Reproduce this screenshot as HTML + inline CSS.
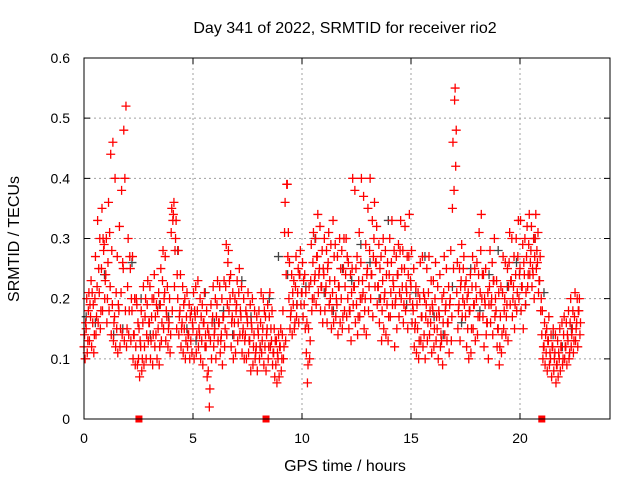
<!DOCTYPE html>
<html><head><meta charset="utf-8"><style>
body{margin:0;background:#fff}
svg{display:block;font-family:"Liberation Sans",sans-serif}
</style></head><body>
<svg id="chart" width="640" height="480" viewBox="0 0 640 480">
<text x="345" y="33" font-size="16" text-anchor="middle">Day 341 of 2022, SRMTID for receiver rio2</text>
<text transform="translate(19,239) rotate(-90)" font-size="16" text-anchor="middle">SRMTID / TECUs</text>
<text x="345" y="471" font-size="16" text-anchor="middle">GPS time / hours</text>
<g id="grid"></g>
<g id="ticks"></g>
<g id="marks"></g>
<rect x="84" y="58" width="526" height="361" fill="none" stroke="#000" stroke-width="1"/>
</svg>
<script>
const xTicks=[0,5,10,15,20];
const yTicks=[0,0.1,0.2,0.3,0.4,0.5,0.6];
const yTickLabels=["0","0.1","0.2","0.3","0.4","0.5","0.6"];
const gapMarks=[2.52,8.35,21.0];
const r1=[.12,.15,.18,.17,.16,.20,.22,.21,.25,.28,
.24,.26,.22,.19,.17,.15,.18,.21,.25,.18,
.22,.27,.18,.14,.20,.10,.12,.16,.17,.19,
.16,.17,.20,.14,.15,.19,.23,.21,.17,.16,
.31,.34,.30,.20,.18,.16,.15,.17,.14,.13,
.15,.17,.18,.14,.13,.16,.12,.08,.13,.17,
.15,.19,.16,.14,.17,.22,.26,.20,.17,.16,
.19,.21,.17,.15,.14,.16,.13,.15,.14,.12,
.14,.16,.15,.12,.15,.17,.13,.11,.09,.10,
.12,.14,.31,.39,.20,.18,.19,.22,.21,.24,
.21,.19,.11,.15,.23,.26,.24,.27,.25,.22,
.24,.22,.26,.20,.21,.23,.19,.22,.20,.25,
.24,.20,.18,.25,.22,.19,.23,.26,.21,.20,
.25,.28,.24,.30,.26,.22,.20,.23,.21,.19,
.24,.26,.22,.20,.24,.28,.22,.25,.21,.27,
.22,.18,.16,.15,.20,.17,.14,.19,.21,.16,
.18,.20,.15,.17,.13,.21,.19,.16,.20,.35,
.53,.21,.19,.23,.25,.17,.15,.18,.22,.19,
.20,.24,.28,.17,.19,.16,.22,.20,.23,.18,
.15,.17,.21,.20,.19,.26,.23,.22,.24,.27,
.25,.22,.24,.27,.29,.28,.24,.30,.26,.23,
.14,.12,.11,.13,.10,.12,.11,.09,.10,.12,
.14,.12,.13,.16,.15,.17,.16,.18];
const r2=[.14,.20,.21,.23,.19,.27,.33,.30,.35,.29,
.30,.36,.44,.46,.40,.27,.32,.38,.48,.52,
.30,.25,.27,.20,.19,.15,.18,.22,.20,.23,
.22,.20,.24,.19,.21,.25,.28,.27,.22,.20,
.35,.36,.33,.28,.24,.22,.20,.21,.19,.18,
.21,.22,.23,.20,.19,.21,.18,.14,.19,.22,
.20,.23,.22,.20,.23,.29,.28,.24,.21,.20,
.23,.25,.22,.20,.18,.21,.19,.20,.18,.17,
.18,.21,.20,.17,.19,.21,.18,.15,.13,.14,
.15,.18,.36,.39,.26,.24,.23,.27,.25,.28,
.26,.24,.16,.22,.29,.31,.30,.34,.32,.28,
.30,.28,.31,.29,.33,.29,.27,.30,.28,.30,
.30,.26,.24,.40,.38,.27,.31,.40,.37,.29,
.35,.40,.33,.36,.32,.29,.27,.30,.28,.26,
.30,.33,.28,.27,.29,.33,.28,.32,.27,.34,
.28,.25,.22,.21,.26,.27,.20,.25,.27,.23,
.23,.26,.22,.24,.20,.27,.25,.22,.28,.46,
.55,.26,.25,.29,.27,.23,.21,.24,.27,.25,
.26,.31,.34,.24,.25,.21,.28,.26,.30,.23,
.21,.22,.27,.26,.25,.31,.30,.27,.30,.33,
.33,.29,.30,.32,.34,.32,.30,.34,.31,.27,
.18,.16,.15,.17,.14,.15,.14,.13,.15,.16,
.17,.16,.18,.20,.18,.21,.20,.20];
const r3=[.10,.11,.13,.12,.11,.14,.16,.15,.18,.20,
.16,.18,.14,.13,.12,.11,.12,.14,.13,.12,
.14,.13,.10,.09,.09,.07,.08,.09,.10,.13,
.10,.09,.12,.10,.09,.13,.15,.13,.12,.11,
.18,.22,.15,.14,.12,.11,.10,.12,.10,.11,
.10,.11,.12,.10,.09,.12,.07,.02,.10,.12,
.10,.13,.11,.09,.12,.14,.18,.12,.10,.11,
.13,.14,.11,.10,.10,.11,.08,.09,.10,.08,
.10,.11,.09,.08,.10,.12,.09,.07,.06,.07,
.08,.10,.13,.27,.15,.14,.15,.17,.16,.19,
.17,.15,.06,.10,.18,.20,.19,.21,.18,.16,
.18,.16,.19,.15,.16,.17,.14,.16,.15,.18,
.17,.15,.13,.19,.16,.14,.17,.20,.15,.14,
.18,.20,.17,.22,.19,.16,.13,.15,.14,.13,
.17,.19,.12,.15,.17,.20,.16,.18,.15,.20,
.16,.12,.11,.10,.13,.12,.10,.13,.14,.11,
.12,.13,.10,.12,.09,.14,.13,.11,.13,.25,
.42,.15,.13,.17,.19,.12,.10,.11,.15,.13,
.14,.17,.20,.12,.14,.10,.16,.14,.17,.12,
.09,.11,.15,.14,.13,.19,.17,.15,.18,.20,
.18,.15,.19,.22,.24,.22,.20,.25,.21,.18,
.10,.09,.08,.09,.07,.08,.06,.07,.08,.09,
.10,.09,.10,.12,.11,.13,.12,.14];
const r4=[.16,.13,.19,.21,.14,.17,.25,.18,.30,.23,
.20,.31,.28,.16,.21,.19,.15,.26,.40,.15,
.18,.20,.14,.12,.16,.13,.10,.12,.14,.16,
.13,.14,.17,.18,.12,.16,.20,.18,.15,.14,
.33,.28,.24,.17,.15,.19,.13,.14,.17,.16,
.18,.14,.15,.17,.16,.14,.15,.05,.16,.14,
.17,.16,.13,.17,.15,.19,.23,.16,.14,.18,
.16,.18,.14,.13,.17,.13,.16,.12,.11,.15,
.12,.13,.18,.14,.12,.15,.11,.13,.11,.12,
.10,.12,.24,.31,.17,.21,.16,.19,.24,.21,
.23,.21,.09,.13,.20,.23,.27,.24,.22,.25,
.21,.25,.23,.18,.27,.20,.22,.25,.17,.22,
.27,.18,.21,.22,.25,.17,.20,.23,.18,.24,
.22,.24,.27,.26,.22,.25,.18,.20,.24,.17,
.21,.23,.19,.24,.21,.25,.19,.22,.24,.23,
.19,.15,.19,.13,.17,.21,.17,.16,.18,.19,
.15,.17,.18,.14,.16,.18,.16,.19,.17,.38,
.48,.18,.22,.20,.22,.20,.18,.15,.19,.22,
.17,.21,.24,.20,.16,.19,.19,.23,.20,.15,
.12,.14,.18,.17,.22,.23,.20,.19,.21,.24,
.22,.26,.21,.24,.26,.25,.27,.28,.23,.20,
.12,.14,.13,.11,.12,.10,.09,.11,.12,.10,
.12,.14,.11,.14,.13,.15,.18,.16];
const gray=[.17,.16,.24,.14,.15,.26,.20,.14,.19,.17,.28,.15,.13,.21,.16,.18,.14,.23,.17,.12,.20,.27,.24,.19,.22,.30,.21,.18,.25,.23,.29,.26,.20,.33,.24,.19,.21,.27,.17,.14,.22,.16,.25,.18,.24,.28,.22,.26,.19,.30,.21,.14,.12,.15];
const tStep=0.1;
const NS="http://www.w3.org/2000/svg";
const X0=84,PXH=21.8,Y0=419,PXV=601.7;
function xs(t){return X0+t*PXH;}
function ys(v){return Y0-v*PXV;}
const grid=document.getElementById('grid'),ticks=document.getElementById('ticks'),marks=document.getElementById('marks');
function el(tag,attrs,parent){const e=document.createElementNS(NS,tag);for(const k in attrs)e.setAttribute(k,attrs[k]);parent.appendChild(e);return e;}
yTicks.forEach((v,i)=>{
  const y=ys(v);
  if(v>0&&v<0.6){const g=el('line',{x1:84,x2:610,y1:y,y2:y,stroke:'#a0a0a0','stroke-dasharray':'2,3'},grid);
  
  }
  const tk=el('path',{d:`M84 ${y}h6M610 ${y}h-6`,stroke:'#000'},ticks);
  
  
  const tl=el('text',{x:70,y:y+5,'font-size':14,'text-anchor':'end'},ticks);tl.textContent=yTickLabels[i];
  
  
});
xTicks.forEach(t=>{
  const x=xs(t);
  if(t>0){const g=el('line',{x1:x,x2:x,y1:58,y2:419,stroke:'#a0a0a0','stroke-dasharray':'2,3'},grid);
  
  }
  const tk=el('path',{d:`M${x} 419v-6M${x} 58v6`,stroke:'#000'},ticks);
  
  
  const tl=el('text',{x:x,y:443,'font-size':14,'text-anchor':'middle'},ticks);tl.textContent=String(t);
  
  
});
function plus(t,v,color,name){
  const x=xs(t),y=ys(v);
  const p=el('path',{d:`M${x-4.5} ${y}h9M${x} ${y-4.5}v9`,stroke:color,'stroke-width':1.3},marks);
  
  
}
gray.forEach((v,i)=>plus(i*0.42+0.1,v,'#444','gray-point'));
[r1,r2,r3,r4].forEach((arr,k)=>arr.forEach((v,i)=>{plus(i*tStep+k*0.025,v,'#ff0000','red-point');}));
gapMarks.forEach(t=>{
  const r=el('rect',{x:xs(t)-3.5,y:415.5,width:7,height:7,fill:'#ff0000'},marks);
  
  
});
</script>
</body></html>
